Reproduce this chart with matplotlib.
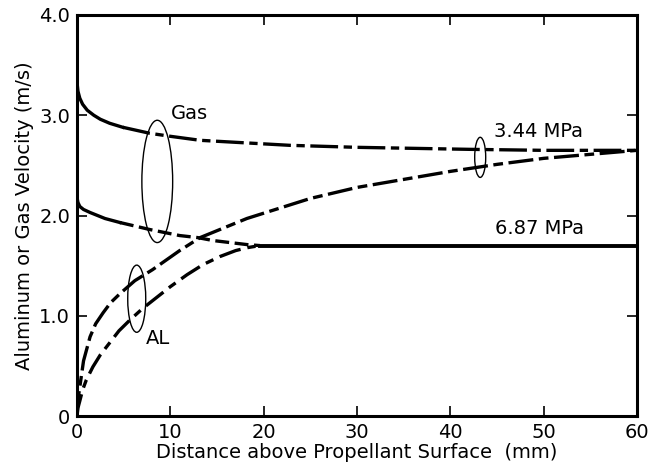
import matplotlib.pyplot as plt
from matplotlib.patches import Ellipse

# distance above propellant surface (mm) / velocity (m/s)
gas_344_x = [0, 0.1, 0.3, 0.6, 1.1, 1.8, 2.5, 3.5, 4.9, 7.8, 10, 13.2, 17, 22.8, 30, 36, 42, 50, 60]
gas_344_y = [3.33, 3.24, 3.17, 3.11, 3.05, 3.00, 2.96, 2.92, 2.88, 2.82, 2.79, 2.75, 2.73, 2.70, 2.68, 2.67, 2.66, 2.65, 2.65]

gas_687_x = [0, 0.1, 0.3, 0.7, 1.4, 2.2, 3, 4.6, 7.8, 11, 12.9, 14.6, 18.2, 19.6, 30, 40, 50, 60]
gas_687_y = [2.18, 2.13, 2.09, 2.06, 2.03, 2.00, 1.97, 1.93, 1.86, 1.80, 1.78, 1.75, 1.71, 1.70, 1.70, 1.70, 1.70, 1.70]

al_344_x = [0, 0.1, 0.3, 0.7, 1.4, 2.0, 2.8, 3.6, 4.6, 6.2, 8.1, 11, 13.2, 18.2, 25, 30, 35, 40, 45, 50, 55, 60]
al_344_y = [0, 0.16, 0.29, 0.55, 0.79, 0.92, 1.03, 1.13, 1.22, 1.35, 1.46, 1.65, 1.78, 1.97, 2.17, 2.28, 2.36, 2.44, 2.51, 2.57, 2.61, 2.65]

al_687_x = [0, 0.1, 0.3, 0.6, 1.0, 1.7, 2.5, 3.5, 4.5, 5.7, 7.0, 8.5, 10.0, 11.8, 13.5, 15.3, 17.0, 18.3, 19.6]
al_687_y = [0, 0.08, 0.15, 0.26, 0.36, 0.49, 0.61, 0.73, 0.85, 0.96, 1.07, 1.18, 1.29, 1.41, 1.51, 1.59, 1.65, 1.68, 1.70]

xticks = [0, 10, 20, 30, 40, 50, 60]
yticks = [0, 1.0, 2.0, 3.0, 4.0]
ytick_labels = ["0", "1.0", "2.0", "3.0", "4.0"]

plt.rcParams['lines.scale_dashes'] = False
plt.rcParams['font.family'] = 'DejaVu Sans'

fig = plt.figure(figsize=(6.65, 4.76), dpi=100)
ax = fig.add_axes([77/665, 1 - 416/476, 560/665, 401/476])

lw = 2.4
# gas, 3.44 MPa: solid near the surface, then dash-dot
ax.plot(gas_344_x[:9], gas_344_y[:9], color='black', lw=lw)
ax.plot(gas_344_x[8:], gas_344_y[8:], color='black', lw=lw, dashes=(20, 4, 6, 4))
# gas, 6.87 MPa: solid, dashed, then solid plateau
ax.plot(gas_687_x[:8], gas_687_y[:8], color='black', lw=lw)
ax.plot(gas_687_x[7:14], gas_687_y[7:14], color='black', lw=lw, dashes=(10, 4))
ax.plot(gas_687_x[13:], gas_687_y[13:], color='black', lw=lw + 0.4)
# aluminum
ax.plot(al_344_x, al_344_y, color='black', lw=lw, dashes=(18, 4, 7, 4))
ax.plot(al_687_x, al_687_y, color='black', lw=lw, dashes=(16, 5, 6, 5))

# group ellipses
for cx, cy, w, h in [(8.6, 2.34, 3.3, 1.22), (6.4, 1.17, 1.93, 0.67), (43.2, 2.58, 1.18, 0.40)]:
    ax.add_patch(Ellipse((cx, cy), w, h, fill=False, lw=1.0, color='black'))

fs = 14
ax.text(12.1, 3.02, "Gas", fontsize=fs, ha='center', va='center')
ax.text(8.7, 0.77, "AL", fontsize=fs, ha='center', va='center')
ax.text(49.5, 2.84, "3.44 MPa", fontsize=fs, ha='center', va='center')
ax.text(49.6, 1.87, "6.87 MPa", fontsize=fs, ha='center', va='center')

ax.set_xlim(0, 60)
ax.set_ylim(0, 4.0)
ax.set_xticks(xticks)
ax.set_yticks(yticks)
ax.set_yticklabels(ytick_labels)
ax.tick_params(direction='in', length=7, width=1.2, top=True, right=True,
               labelsize=fs, pad=5)
for s in ax.spines.values():
    s.set_linewidth(2.2)

ax.set_xlabel("Distance above Propellant Surface  (mm)", fontsize=fs, labelpad=1)
ax.set_ylabel("Aluminum or Gas Velocity (m/s)", fontsize=fs, labelpad=4)

fig.savefig("out.png", dpi=100)
